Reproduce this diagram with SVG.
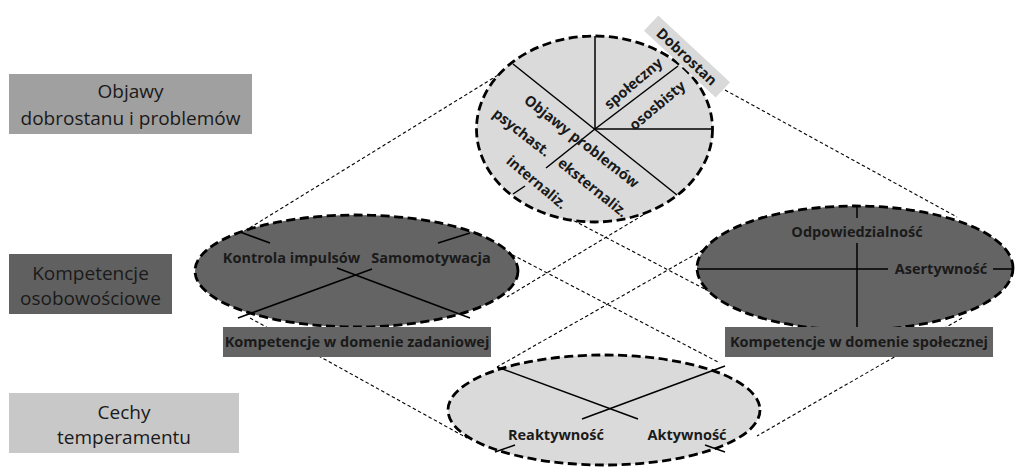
<svg xmlns="http://www.w3.org/2000/svg" width="1016" height="468" viewBox="0 0 1016 468">
<style>
.lbl{font-family:"Open Sans","Liberation Sans",sans-serif;font-size:19px;fill:#1a1a1a;text-anchor:middle}
.b{font-family:"Open Sans","Liberation Sans",sans-serif;font-size:14.5px;font-weight:bold;fill:#1a1a1a;text-anchor:middle}
.r{dominant-baseline:central}
.ell{stroke:#000;stroke-width:2.8;stroke-dasharray:9 4.5}
.light{fill:#dadada}
.dark{fill:#646464}
.ln{stroke:#000;stroke-width:1.5;fill:none}
.con{stroke:#000;stroke-width:1.1;stroke-dasharray:3.5 2.5;fill:none}
</style>
<rect width="1016" height="468" fill="#fff"/>
<g id="connectors">
<line class="con" x1="503" y1="72" x2="243" y2="232"/>
<line class="con" x1="725" y1="90" x2="957" y2="217"/>
<line class="con" x1="563" y1="215" x2="720" y2="297"/>
<line class="con" x1="643" y1="215" x2="507" y2="297"/>
<line class="con" x1="507" y1="252" x2="720" y2="363"/>
<line class="con" x1="703" y1="250" x2="497" y2="367"/>
<line class="con" x1="250" y1="318" x2="467" y2="438"/>
<line class="con" x1="962" y1="318" x2="757" y2="436"/>
</g>
<g id="label-objawy">
<rect x="9" y="74" width="243" height="60" fill="#a0a0a0"/>
<text class="lbl" x="130.5" y="98">Objawy</text>
<text class="lbl" x="130.5" y="125">dobrostanu i problemów</text>
</g>
<g id="label-kompetencje">
<rect x="9" y="254" width="163" height="60" fill="#606060"/>
<text class="lbl" x="90.5" y="280">Kompetencje</text>
<text class="lbl" x="90.5" y="305">osobowościowe</text>
</g>
<g id="label-cechy">
<rect x="9" y="393" width="230" height="60" fill="#c8c8c8"/>
<text class="lbl" x="124" y="419">Cechy</text>
<text class="lbl" x="124" y="444">temperamentu</text>
</g>
<g id="top-ellipse">
<ellipse class="ell light" cx="594.5" cy="129" rx="118" ry="93"/>
<line class="ln" x1="595" y1="36" x2="595" y2="129"/>
<line class="ln" x1="595" y1="129" x2="712" y2="129"/>
<line class="ln" x1="595" y1="129" x2="678" y2="66"/>
<line class="ln" x1="513" y1="64" x2="677" y2="195"/>
<line class="ln" x1="546" y1="168" x2="595" y2="129"/>
<line class="ln" x1="513" y1="194" x2="525" y2="186"/>
<text class="b r" transform="translate(633,83) rotate(-40)">społeczny</text>
<text class="b r" transform="translate(657,105) rotate(-40)">ososbisty</text>
<text class="b r" transform="translate(582,141) rotate(38)">Objawy problemów</text>
<text class="b r" transform="translate(522,132) rotate(38)">psychast.</text>
<text class="b r" transform="translate(593,187) rotate(39)">eksternaliz.</text>
<text class="b r" transform="translate(537,182) rotate(40)">internaliz.</text>
</g>
<g id="dobrostan">
<rect x="-49" y="-10.5" width="98" height="21" fill="#d9d9d9" transform="translate(687,56.5) rotate(43)"/>
<text class="b r" transform="translate(687,56.5) rotate(43)">Dobrostan</text>
</g>
<g id="left-ellipse">
<ellipse class="ell dark" cx="356.5" cy="271" rx="161.5" ry="56"/>
<line class="ln" x1="240" y1="232" x2="270" y2="243"/>
<line class="ln" x1="438" y1="243" x2="470" y2="233"/>
<line class="ln" x1="238" y1="318" x2="372" y2="269"/>
<line class="ln" x1="337" y1="268" x2="470" y2="318"/>
<text class="b" x="291.5" y="263">Kontrola impulsów</text>
<text class="b" x="431" y="263">Samomotywacja</text>
</g>
<g id="task-domain">
<rect x="223" y="327" width="268" height="30" fill="#646464"/>
<text class="b" x="357" y="347">Kompetencje w domenie zadaniowej</text>
</g>
<g id="right-ellipse">
<ellipse class="ell dark" cx="855" cy="268" rx="158" ry="62"/>
<line class="ln" x1="857" y1="206" x2="857" y2="218"/>
<line class="ln" x1="857" y1="243" x2="857" y2="328"/>
<line class="ln" x1="697" y1="269" x2="888" y2="269"/>
<line class="ln" x1="993" y1="269" x2="1013" y2="269"/>
<text class="b" x="857" y="237">Odpowiedzialność</text>
<text class="b" x="941" y="274">Asertywność</text>
</g>
<g id="social-domain">
<rect x="725" y="327" width="268" height="30" fill="#646464"/>
<text class="b" x="859" y="347">Kompetencje w domenie społecznej</text>
</g>
<g id="bottom-ellipse">
<ellipse class="ell light" cx="604" cy="410" rx="156" ry="55"/>
<line class="ln" x1="497" y1="367" x2="638" y2="419"/>
<line class="ln" x1="582" y1="419" x2="725" y2="366"/>
<line class="ln" x1="495" y1="452" x2="515" y2="445"/>
<line class="ln" x1="705" y1="445" x2="725" y2="452"/>
<text class="b" x="556" y="440">Reaktywność</text>
<text class="b" x="687" y="440">Aktywność</text>
</g>
</svg>
